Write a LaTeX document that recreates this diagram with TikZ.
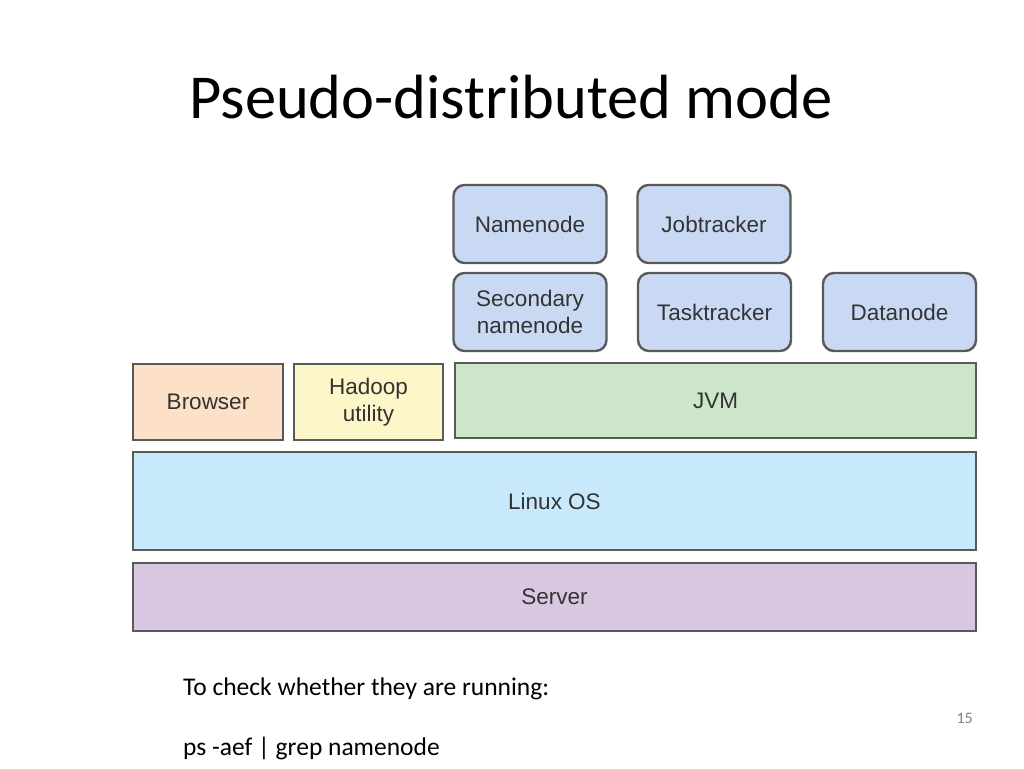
\documentclass[tikz,border=0pt]{standalone}
\usepackage{fontspec}
\setmainfont{Carlito}
\newfontfamily\boxfont{Liberation Sans}
\usetikzlibrary{positioning}

\definecolor{lineGray}{HTML}{5A5A5A}
\definecolor{textGray}{HTML}{333333}
\definecolor{procBlue}{HTML}{C9D9F3}
\definecolor{browserOrange}{HTML}{FCE0C7}
\definecolor{hadoopYellow}{HTML}{FDF6C8}
\definecolor{jvmGreen}{HTML}{CDE6C9}
\definecolor{linuxBlue}{HTML}{C8E9FB}
\definecolor{serverPurple}{HTML}{D9C7E1}

\begin{document}
\begin{tikzpicture}[x=1pt,y=-1pt,
  proc node/.style={draw=lineGray,line width=2.4pt,rounded corners=11pt,fill=procBlue,
    minimum width=153pt,minimum height=78pt,align=center,text=textGray,
    font=\boxfont\fontsize{22.5}{27}\selectfont,inner sep=0pt},
  layer node/.style={draw=lineGray,line width=2.4pt,align=center,text=textGray,
    font=\boxfont\fontsize{22.5}{27}\selectfont,inner sep=0pt}]
  \useasboundingbox (0,0) rectangle (1024,768);

  % title
  \node[anchor=base west,inner sep=0pt,font=\fontsize{62.5}{70}\selectfont] (title) at (189,118) {Pseudo-distributed mode};

  % daemons
  \node[proc node] (namenode) at (530,224) {Namenode};
  \node[proc node] (jobtracker) at (714,224) {Jobtracker};
  \node[proc node] (secnamenode) at (530,312) {Secondary\\namenode};
  \node[proc node] (tasktracker) at (714.5,312) {Tasktracker};
  \node[proc node] (datanode) at (899.5,312) {Datanode};

  % layers
  \node[layer node,fill=browserOrange,minimum width=150pt,minimum height=76pt] (browser) at (208,402) {Browser};
  \node[layer node,fill=hadoopYellow,minimum width=149pt,minimum height=76pt] (hadoop) at (368.5,402) {Hadoop\\utility};
  \node[layer node,fill=jvmGreen,minimum width=521pt,minimum height=75pt] (jvm) at (715.5,400.5) {JVM};
  \node[layer node,fill=linuxBlue,minimum width=843pt,minimum height=98pt] (linux) at (554.5,501) {Linux OS};
  \node[layer node,fill=serverPurple,minimum width=843pt,minimum height=68pt] (server) at (554.5,597) {Server};

  % notes
  \node[anchor=base west,inner sep=0pt,font=\fontsize{25.5}{30}\selectfont] (check) at (183,695) {To check whether they are running:};
  \node[anchor=base west,inner sep=0pt,font=\fontsize{25.5}{30}\selectfont] (cmd) at (183,755) {ps -aef | grep namenode};
  \node[anchor=base east,inner sep=0pt,text=gray,font=\fontsize{16}{18}\selectfont] (page) at (973,723) {15};
\end{tikzpicture}
\end{document}
